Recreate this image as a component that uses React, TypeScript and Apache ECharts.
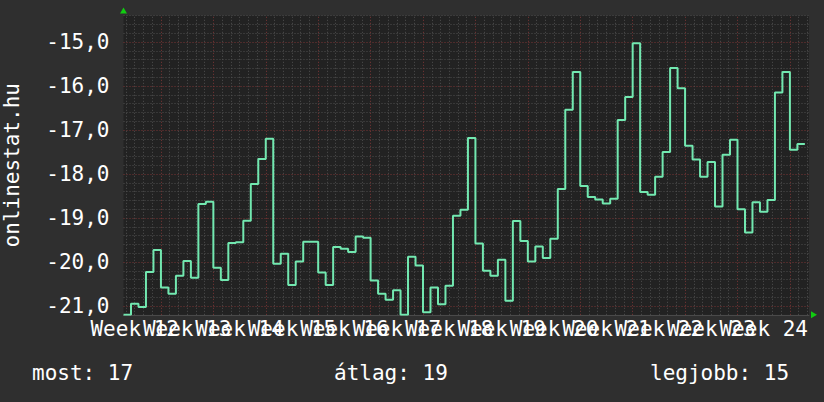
import React, { useEffect, useRef } from 'react';
import * as echarts from 'echarts';

// daily rank, plotted negated like the rrd graph does
const rank = [
  -21.2, -20.95, -21.02, -20.23, -19.73, -20.58, -20.72, -20.31, -19.98, -20.36,
  -18.68, -18.63, -20.13, -20.41, -19.57, -19.55, -19.06, -18.23, -17.66, -17.2,
  -20.04, -19.81, -20.52, -19.99, -19.54, -19.54, -20.24, -20.52, -19.66, -19.7,
  -19.77, -19.42, -19.45, -20.42, -20.72, -20.86, -20.64, -21.2, -19.88, -20.08,
  -21.14, -20.58, -20.96, -20.54, -18.95, -18.81, -17.18, -19.58, -20.2, -20.31,
  -19.95, -20.88, -19.07, -19.52, -19.99, -19.65, -19.91, -19.47, -18.34, -16.54,
  -15.68, -18.27, -18.52, -18.58, -18.67, -18.56, -16.77, -16.25, -15.03, -18.41,
  -18.47, -18.06, -17.5, -15.59, -16.05, -17.36, -17.67, -18.06, -17.73, -18.74,
  -17.56, -17.22, -18.8, -19.33, -18.64, -18.86, -18.59, -16.15, -15.68, -17.45,
  -17.32,
];
const firstDay = -5; // first sample, in days from the start of week 13
const weekLabels = [
  'Week 12', 'Week 13', 'Week 14', 'Week 15', 'Week 16', 'Week 17', 'Week 18',
  'Week 19', 'Week 20', 'Week 21', 'Week 22', 'Week 23', 'Week 24',
];
const weekLines = [0, 7, 14, 21, 28, 35, 42, 49, 56, 63, 70, 77, 84];
const footer = ['most: 17', 'átlag: 19', 'legjobb: 15'];

const xMin = -5;
const xMax = 86.55;
const yMin = -21.2;
const yMax = -14.4;

const FONT = "'DejaVu Sans Mono', monospace";
const BG = '#2f2f2f';
const PLOT = '#222222';
const MINOR = '#4e4e4e';
const MAJOR = '#7a3535';
const ARROW = '#11cc11';

export default function App() {
  const ref = useRef<HTMLDivElement>(null);
  useEffect(() => {
    document.body.style.margin = '0';
    if (!ref.current) return;
    const chart = echarts.init(ref.current, null, { renderer: 'svg' });

    const pts: number[][] = rank.map((v, i) => [firstDay + i, v]);
    // close the last step
    pts.push([firstDay + rank.length, rank[rank.length - 1]]);

    // minor vertical grid: six per week
    const minor: number[] = [];
    for (let k = -4; k <= 74; k++) if (k % 6 !== 0) minor.push((7 * k) / 6);
    // labels sit mid-week; split over two axes so none get dropped as overlapping
    const labelPos = weekLabels.map((_, i) => -3.5 + 7 * i);
    const evenPos = labelPos.filter((_, i) => i % 2 === 0);
    const oddPos = labelPos.filter((_, i) => i % 2 === 1);

    const weekLabel = (pos: number[]) => ({
      customValues: pos,
      formatter: (v: number) => weekLabels[Math.round((v + 3.5) / 7)] ?? '',
      color: '#ffffff',
      fontFamily: FONT,
      fontSize: 21,
      margin: 4,
      hideOverlap: false,
      showMinLabel: true,
      showMaxLabel: true,
    });

    const arrowLine = {
      show: true,
      onZero: false,
      symbol: ['none', 'triangle'],
      symbolSize: [7, 6],
      symbolOffset: [0, 5],
      lineStyle: { color: ARROW, width: 0 },
    };

    chart.setOption({
      animation: false,
      backgroundColor: BG,
      grid: {
        show: true,
        left: 123.5,
        right: 15,
        top: 15.6,
        bottom: 87.2,
        backgroundColor: PLOT,
        borderWidth: 0,
        outerBoundsMode: 'none',
      },
      xAxis: [
        {
          type: 'value',
          position: 'bottom',
          min: xMin,
          max: xMax,
          axisLine: { show: true, onZero: false, lineStyle: { color: '#4a4a4a', width: 1 } },
          axisTick: { show: false },
          splitLine: { show: false },
          axisLabel: weekLabel(evenPos),
        },
        {
          type: 'value',
          position: 'bottom',
          min: xMin,
          max: xMax,
          axisLine: arrowLine,
          axisTick: { show: false },
          splitLine: { show: false },
          axisLabel: weekLabel(oddPos),
        },
      ],
      yAxis: [
        {
          type: 'value',
          min: yMin,
          max: yMax,
          interval: 0.2,
          name: 'onlinestat.hu',
          nameLocation: 'middle',
          nameRotate: 90,
          nameGap: 101,
          nameMoveOverlap: false,
          nameTextStyle: { color: '#ffffff', fontFamily: FONT, fontSize: 21 },
          axisLine: { show: false, onZero: false },
          axisTick: { show: false },
          splitLine: {
            show: true,
            lineStyle: { color: [MINOR, MAJOR, MINOR, MINOR, MINOR], type: [1, 2], width: 1 },
          },
          axisLabel: {
            formatter: (v: number) =>
              Math.abs(v - Math.round(v)) < 1e-6 ? v.toFixed(1).replace('.', ',') : '',
            color: '#ffffff',
            fontFamily: FONT,
            fontSize: 21,
            margin: 14,
          },
        },
        {
          type: 'value',
          position: 'left',
          min: yMin,
          max: yMax,
          axisLine: arrowLine,
          axisTick: { show: false },
          axisLabel: { show: false },
          splitLine: { show: false },
        },
      ],
      series: [
        {
          type: 'line',
          data: [],
          silent: true,
          markLine: {
            silent: true,
            symbol: ['none', 'none'],
            label: { show: false },
            animation: false,
            lineStyle: { color: MINOR, type: [1, 2], width: 1 },
            data: [
              ...minor.map((v) => ({ xAxis: v })),
              ...weekLines.map((v) => ({ xAxis: v, lineStyle: { color: MAJOR, type: [1, 2], width: 1 } })),
            ],
          },
        },
        {
          type: 'line',
          step: 'end',
          data: pts,
          symbol: 'none',
          z: 5,
          lineStyle: { color: '#72e8b0', width: 2 },
        },
      ],
      graphic: footer.map((t, i) => ({
        type: 'text',
        x: [32, 334, 650][i],
        y: 373,
        style: {
          text: t,
          fill: '#ffffff',
          font: `21px ${FONT}`,
          align: 'left',
          verticalAlign: 'middle',
          textAlign: 'left',
          textVerticalAlign: 'middle',
        },
      })),
    });
    return () => {
      chart.dispose();
    };
  }, []);
  return <div ref={ref} style={{ width: 824, height: 402, background: BG }} />;
}
